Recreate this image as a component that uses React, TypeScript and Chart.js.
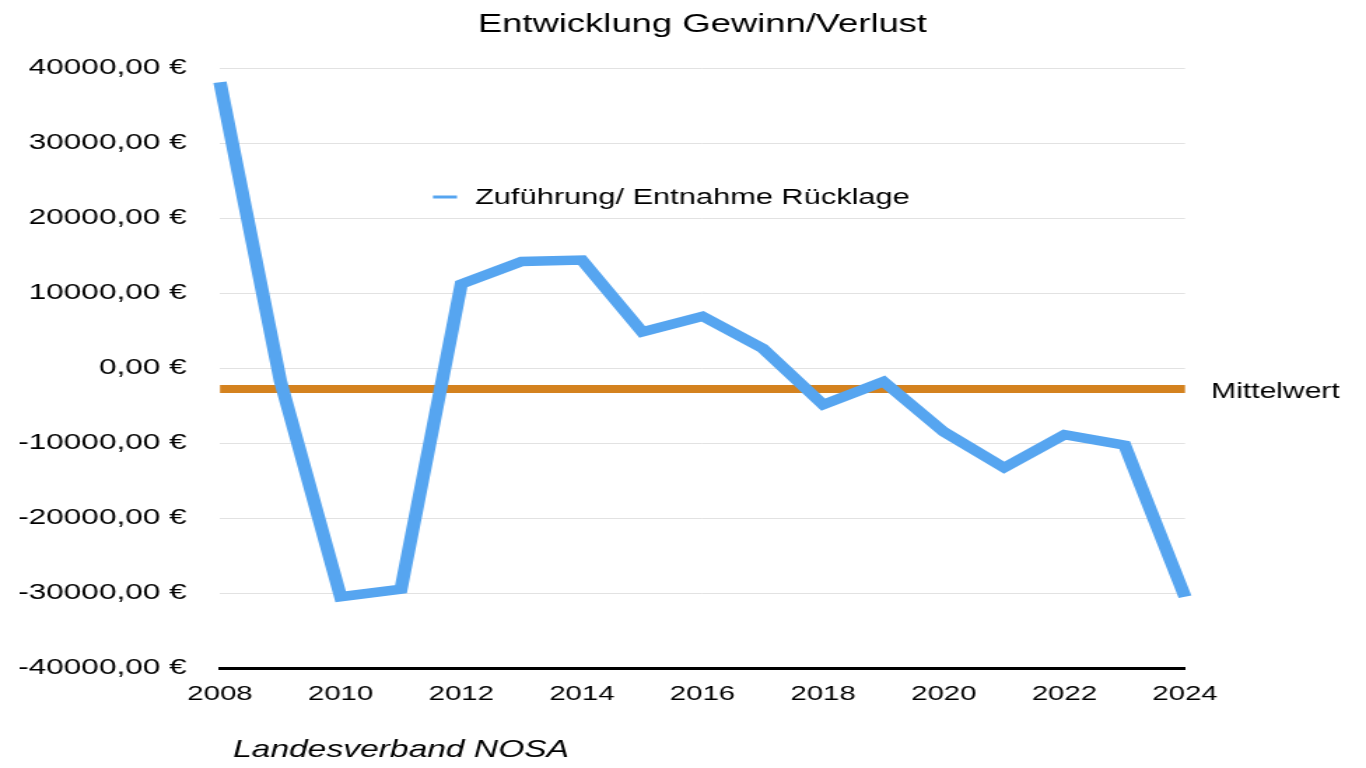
import React, { useEffect, useRef } from 'react';
import { Chart, registerables } from 'chart.js';

Chart.register(...registerables);

// ---- Data ----
const years = [2008, 2009, 2010, 2011, 2012, 2013, 2014, 2015, 2016, 2017, 2018, 2019, 2020, 2021, 2022, 2023, 2024];
const values = [38100, -1700, -30500, -29500, 11200, 14200, 14400, 4800, 6900, 2600, -4900, -1800, -8500, -13300, -8900, -10300, -30500];
const meanYears = [2008, 2024];
const meanValue = -2800;
const seriesLabel = 'Zuführung/ Entnahme Rücklage';
const meanLabel = 'Mittelwert';
const titleText = 'Entwicklung Gewinn/Verlust';
const footerText = 'Landesverband NOSA';
const yMin = -40000;
const yMax = 40000;
const yStep = 10000;
const xStep = 2;

// ---- Layout / style ----
const DISPLAY_W = 1366;
const DISPLAY_H = 768;
const STRETCH = 1.4; // the reference is horizontally stretched
const CANVAS_W = Math.round(DISPLAY_W / STRETCH);
const CANVAS_H = DISPLAY_H;
const S = DISPLAY_W / CANVAS_W;
const FONT = "'Liberation Sans', Arial, Helvetica, sans-serif";
const BLUE = '#56a5f0';
const ORANGE = '#d4821f';

const overlayPlugin = {
  id: 'overlayTexts',
  afterDraw(chart: any) {
    const ctx = chart.ctx as CanvasRenderingContext2D;
    const area = chart.chartArea;
    ctx.save();
    ctx.fillStyle = '#000';

    // Title
    ctx.font = `26px ${FONT}`;
    ctx.textAlign = 'center';
    ctx.textBaseline = 'alphabetic';
    ctx.fillText(titleText, (area.left + area.right) / 2, 32);

    // Legend
    const ds = chart.data.datasets[0];
    ctx.strokeStyle = ds.borderColor;
    ctx.lineWidth = 3;
    ctx.beginPath();
    ctx.moveTo(433 / S, 197);
    ctx.lineTo(457 / S, 197);
    ctx.stroke();
    ctx.font = `22px ${FONT}`;
    ctx.textAlign = 'left';
    ctx.textBaseline = 'middle';
    ctx.fillText(ds.label, 475 / S, 198);

    // Mean label
    const yMean = chart.scales.y.getPixelForValue(meanValue);
    ctx.font = `21.5px ${FONT}`;
    ctx.textAlign = 'left';
    ctx.textBaseline = 'middle';
    ctx.fillText(meanLabel, area.right + (1211 - 1185) / S, yMean + 3);

    // Footer
    ctx.font = `italic 24px ${FONT}`;
    ctx.textAlign = 'left';
    ctx.textBaseline = 'middle';
    ctx.fillText(footerText, 233 / S, 750);

    ctx.restore();
  },
};

export default function App() {
  const canvasRef = useRef<HTMLCanvasElement | null>(null);

  useEffect(() => {
    const canvas = canvasRef.current;
    if (!canvas) return;
    const areaLeft = 220 / S;
    const areaRight = 1185 / S;
    const chart = new Chart(canvas, {
      type: 'line',
      data: {
        datasets: [
          {
            label: seriesLabel,
            data: years.map((x, i) => ({ x, y: values[i] })),
            borderColor: BLUE,
            backgroundColor: BLUE,
            borderWidth: 9.5,
            pointRadius: 0,
            tension: 0,
            clip: false,
            borderJoinStyle: 'miter',
            borderCapStyle: 'butt',
          },
          {
            label: meanLabel,
            data: meanYears.map((x) => ({ x, y: meanValue })),
            borderColor: ORANGE,
            backgroundColor: ORANGE,
            borderWidth: 8,
            pointRadius: 0,
            tension: 0,
            clip: false,
            borderCapStyle: 'butt',
          },
        ],
      },
      options: {
        responsive: false,
        animation: false,
        devicePixelRatio: 1,
        layout: {
          padding: { left: 0, right: CANVAS_W - areaRight, top: 68, bottom: 50 },
        },
        plugins: {
          legend: { display: false },
          title: { display: false },
          tooltip: { enabled: false },
        },
        scales: {
          x: {
            type: 'linear',
            min: years[0],
            max: years[years.length - 1],
            ticks: {
              stepSize: xStep,
              autoSkip: false,
              maxRotation: 0,
              padding: 6,
              color: '#000',
              font: { family: FONT, size: 21 },
              callback: (v: any) => String(v),
            },
            grid: { display: false },
            border: { display: true, color: '#000', width: 3 },
            afterFit: (scale: any) => {
              scale.height = 50;
            },
          },
          y: {
            min: yMin,
            max: yMax,
            ticks: {
              stepSize: yStep,
              padding: 24,
              color: '#000',
              font: { family: FONT, size: 22.5 },
              callback: (v: any) => Number(v).toFixed(2).replace('.', ',') + ' €',
            },
            grid: { color: '#e2e2e2', lineWidth: 1, drawTicks: false },
            border: { display: false },
            afterFit: (scale: any) => {
              scale.width = areaLeft;
            },
          },
        },
      } as any,
      plugins: [overlayPlugin],
    });
    return () => chart.destroy();
  }, []);

  return (
    <div style={{ position: 'fixed', left: 0, top: 0, width: DISPLAY_W, height: DISPLAY_H, background: '#fff' }}>
      <canvas
        ref={canvasRef}
        width={CANVAS_W}
        height={CANVAS_H}
        style={{ width: `${DISPLAY_W}px`, height: `${DISPLAY_H}px`, display: 'block' }}
      />
    </div>
  );
}
